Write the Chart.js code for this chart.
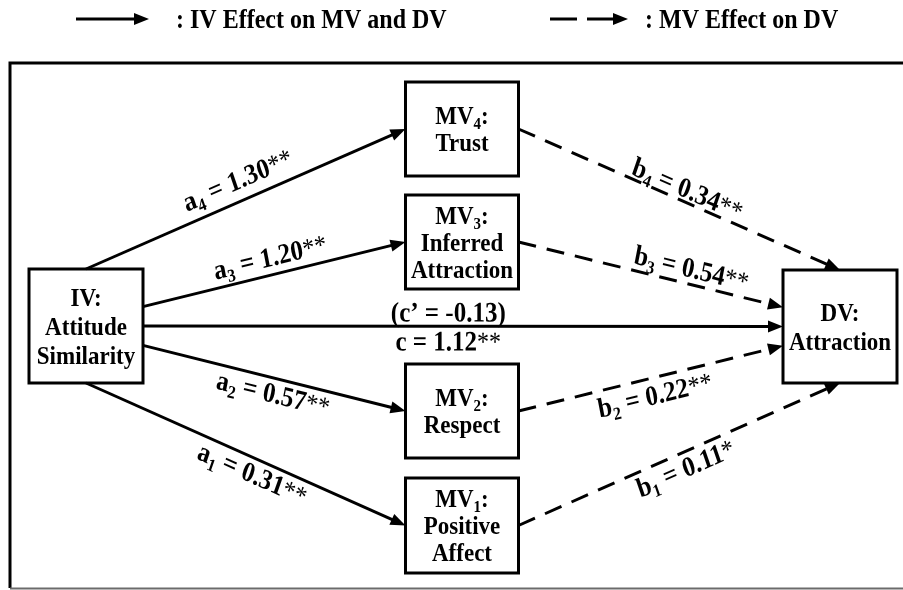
<!DOCTYPE html>
<html>
<head>
<meta charset="utf-8">
<script src="https://cdn.jsdelivr.net/npm/chart.js@4.4.1/dist/chart.umd.min.js"></script>
<style>
  html, body { margin: 0; padding: 0; background: #fff; }
  #wrap { width: 903px; height: 590px; position: relative; }
</style>
</head>
<body>
<div id="wrap"><canvas id="chart"></canvas></div>
<script>
// Mediation model values, mediators in order MV1..MV4
const mediatorNames = [["Positive", "Affect"], ["Respect"], ["Inferred", "Attraction"], ["Trust"]];
const aValues = [0.31, 0.57, 1.20, 1.30];
const aStars = ["**", "**", "**", "**"];
const bValues = [0.11, 0.22, 0.54, 0.34];
const bStars = ["*", "**", "**", "**"];
const cTotal = 1.12;
const cTotalStars = "**";
const cDirect = -0.13;
const ivName = ["Attitude", "Similarity"];
const dvName = ["Attraction"];
const legendLabels = [": IV Effect on MV and DV", ": MV Effect on DV"];

// Layout, in diagram units (axes run 0..903 and 0..590)
const W = 903, H = 590;
const boxes = {
  IV:  { x: 86,  y: 326,   w: 114, h: 114 },
  MV1: { x: 462, y: 525.5, w: 113, h: 95 },
  MV2: { x: 462, y: 411,   w: 113, h: 94 },
  MV3: { x: 462, y: 242,   w: 113, h: 94 },
  MV4: { x: 462, y: 129,   w: 113, h: 94 },
  DV:  { x: 840, y: 326.5, w: 114, h: 113 }
};
const mvKeys = ["MV1", "MV2", "MV3", "MV4"];
// where each path leaves / enters a box, as fractions of the box size
const ivPorts = [[0, 0.5], [0.5, 0.17], [0.5, -0.17], [0, -0.5]];
const dvPorts = [[0, 0.5], [-0.5, 0.17], [-0.5, -0.17], [0, -0.5]];
// label placement: fraction along the path, offset (px) to its side
const aLabelPos = [[0.54, 15], [0.51, 15], [0.5, -18], [0.5, -21]];
const bLabelPos = [[0.5, 15], [0.5, 17], [0.64, -16], [0.51, -13]];

const FONT = '"Liberation Serif", "Times New Roman", serif';
const BOX_SIZE = 23;
const LABEL_SIZE = 25;
const LEGEND_SIZE = 24;
const SY = 1.13; // text in the reference is a little taller than wide
const DASH = [18, 11];

function port(key, p) {
  const b = boxes[key];
  return { x: b.x + p[0] * b.w, y: b.y + p[1] * b.h };
}

function pathLabel(letter, i, value, stars) {
  return [
    { t: letter },
    { t: String(i + 1), sub: true },
    { t: " = " + value.toFixed(2) },
    { t: stars, star: true }
  ];
}

// build the list of paths
const edges = [];
for (let i = 0; i < 4; i++) {
  edges.push({
    from: port("IV", ivPorts[i]), to: port(mvKeys[i], [-0.5, 0]), dashed: false,
    labels: [{ segs: pathLabel("a", i, aValues[i], aStars[i]), t: aLabelPos[i][0], off: aLabelPos[i][1] }]
  });
  edges.push({
    from: port(mvKeys[i], [0.5, 0]), to: port("DV", dvPorts[i]), dashed: true,
    labels: [{ segs: pathLabel("b", i, bValues[i], bStars[i]), t: bLabelPos[i][0], off: bLabelPos[i][1] }]
  });
}
edges.push({
  from: port("IV", [0.5, 0]), to: port("DV", [-0.5, 0]), dashed: false,
  labels: [
    { segs: [{ t: "(c\u2019 = " + cDirect.toFixed(2) + ")" }], t: 0.477, off: -14 },
    { segs: [{ t: "c = " + cTotal.toFixed(2) }, { t: cTotalStars, star: true }], t: 0.477, off: 15 }
  ]
});

// box text lines
const boxText = {
  IV: [[{ t: "IV:" }]].concat(ivName.map(s => [{ t: s }])),
  DV: [[{ t: "DV:" }]].concat(dvName.map(s => [{ t: s }]))
};
mvKeys.forEach((k, i) => {
  boxText[k] = [[{ t: "MV" }, { t: String(i + 1), sub: true }, { t: ":" }]]
    .concat(mediatorNames[i].map(s => [{ t: s }]));
});

// datasets: box outlines and path lines
const datasets = [];
Object.keys(boxes).forEach(k => {
  const b = boxes[k];
  const l = b.x - b.w / 2, r = b.x + b.w / 2, t = b.y - b.h / 2, bo = b.y + b.h / 2;
  datasets.push({
    type: "line",
    data: [{ x: l, y: t }, { x: r, y: t }, { x: r, y: bo }, { x: l, y: bo }, { x: l, y: t }, { x: r, y: t }],
    borderColor: "#000", borderWidth: 3, borderJoinStyle: "miter",
    pointRadius: 0, fill: false, tension: 0
  });
});
edges.forEach(e => {
  const dx = e.to.x - e.from.x, dy = e.to.y - e.from.y;
  const len = Math.hypot(dx, dy);
  const end = { x: e.to.x - dx / len * 9, y: e.to.y - dy / len * 9 };
  datasets.push({
    type: "line",
    data: [e.from, end],
    borderColor: "#000", borderWidth: 3, borderDash: e.dashed ? DASH : [],
    borderCapStyle: "butt", pointRadius: 0, fill: false, tension: 0
  });
});

function fontFor(seg, size) {
  if (seg.sub) return "bold " + Math.round(size * 0.65) + "px " + FONT;
  if (seg.star) return Math.round(size * 0.95) + "px " + FONT;
  return "bold " + size + "px " + FONT;
}

function drawRich(ctx, segs, cx, cy, angle, size, align) {
  angle = angle || 0;
  ctx.save();
  ctx.translate(cx, cy);
  ctx.scale(1, SY);
  ctx.rotate(Math.atan2(Math.sin(angle) / SY, Math.cos(angle)));
  ctx.textBaseline = "alphabetic";
  ctx.textAlign = "left";
  ctx.fillStyle = "#000";
  const widths = segs.map(s => { ctx.font = fontFor(s, size); return ctx.measureText(s.t).width; });
  const total = widths.reduce((a, b) => a + b, 0);
  let x = align === "left" ? 0 : -total / 2;
  const base = size * 0.33;
  segs.forEach((s, i) => {
    ctx.font = fontFor(s, size);
    const y = s.sub ? base + size * 0.2 : base;
    ctx.fillText(s.t, x, y);
    x += widths[i];
  });
  ctx.restore();
}

function drawHead(ctx, tip, from, len, half) {
  const a = Math.atan2(tip.y - from.y, tip.x - from.x);
  ctx.save();
  ctx.translate(tip.x, tip.y);
  ctx.rotate(a);
  ctx.beginPath();
  ctx.moveTo(0, 0);
  ctx.lineTo(-len, -half);
  ctx.lineTo(-len, half);
  ctx.closePath();
  ctx.fillStyle = "#000";
  ctx.fill();
  ctx.restore();
}

const diagramPlugin = {
  id: "diagram",
  afterDatasetsDraw(chart) {
    const ctx = chart.ctx;
    const xs = chart.scales.x, ys = chart.scales.y;
    const px = p => ({ x: xs.getPixelForValue(p.x), y: ys.getPixelForValue(p.y) });

    // outer frame (runs off the right edge)
    ctx.save();
    ctx.strokeStyle = "#000";
    ctx.lineWidth = 3;
    ctx.beginPath();
    ctx.moveTo(xs.getPixelForValue(W + 10), ys.getPixelForValue(63));
    ctx.lineTo(xs.getPixelForValue(10), ys.getPixelForValue(63));
    ctx.lineTo(xs.getPixelForValue(10), ys.getPixelForValue(588));
    ctx.stroke();
    ctx.strokeStyle = "#6b6b6b";
    ctx.lineWidth = 2;
    ctx.beginPath();
    ctx.moveTo(xs.getPixelForValue(10), ys.getPixelForValue(588.5));
    ctx.lineTo(xs.getPixelForValue(W + 10), ys.getPixelForValue(588.5));
    ctx.stroke();
    ctx.restore();

    // arrowheads and path labels
    edges.forEach(e => {
      const a = px(e.from), b = px(e.to);
      drawHead(ctx, b, a, 15, 6);
      const ang = Math.atan2(b.y - a.y, b.x - a.x);
      const nx = -Math.sin(ang), ny = Math.cos(ang);
      e.labels.forEach(lb => {
        const cx = a.x + (b.x - a.x) * lb.t + nx * lb.off;
        const cy = a.y + (b.y - a.y) * lb.t + ny * lb.off;
        drawRich(ctx, lb.segs, cx, cy, ang, LABEL_SIZE);
      });
    });

    // box text
    Object.keys(boxText).forEach(k => {
      const b = boxes[k], lines = boxText[k];
      const gap = k === "IV" || k === "DV" ? 29 : 27;
      const c = px({ x: b.x, y: b.y });
      lines.forEach((segs, i) => {
        drawRich(ctx, segs, c.x, c.y + (i - (lines.length - 1) / 2) * gap, 0, BOX_SIZE);
      });
    });

    // legend
    const ly = ys.getPixelForValue(19);
    ctx.save();
    ctx.strokeStyle = "#000";
    ctx.lineWidth = 3;
    ctx.beginPath();
    ctx.moveTo(xs.getPixelForValue(76), ly);
    ctx.lineTo(xs.getPixelForValue(138), ly);
    ctx.stroke();
    ctx.setLineDash([27, 10]);
    ctx.beginPath();
    ctx.moveTo(xs.getPixelForValue(550), ly);
    ctx.lineTo(xs.getPixelForValue(617), ly);
    ctx.stroke();
    ctx.restore();
    drawHead(ctx, { x: xs.getPixelForValue(149), y: ly }, { x: 0, y: ly }, 15, 6);
    drawHead(ctx, { x: xs.getPixelForValue(628), y: ly }, { x: 0, y: ly }, 15, 6);
    drawRich(ctx, [{ t: legendLabels[0] }], xs.getPixelForValue(176), ly, 0, LEGEND_SIZE, "left");
    drawRich(ctx, [{ t: legendLabels[1] }], xs.getPixelForValue(645), ly, 0, LEGEND_SIZE, "left");
  }
};

new Chart(document.getElementById("chart").getContext("2d"), {
  type: "scatter",
  data: { datasets: datasets },
  options: {
    responsive: true,
    maintainAspectRatio: false,
    animation: false,
    events: [],
    layout: { padding: 0 },
    scales: {
      x: { type: "linear", min: 0, max: W, display: false },
      y: { type: "linear", min: 0, max: H, reverse: true, display: false }
    },
    plugins: {
      legend: { display: false },
      tooltip: { enabled: false }
    }
  },
  plugins: [diagramPlugin]
});
</script>
</body>
</html>
